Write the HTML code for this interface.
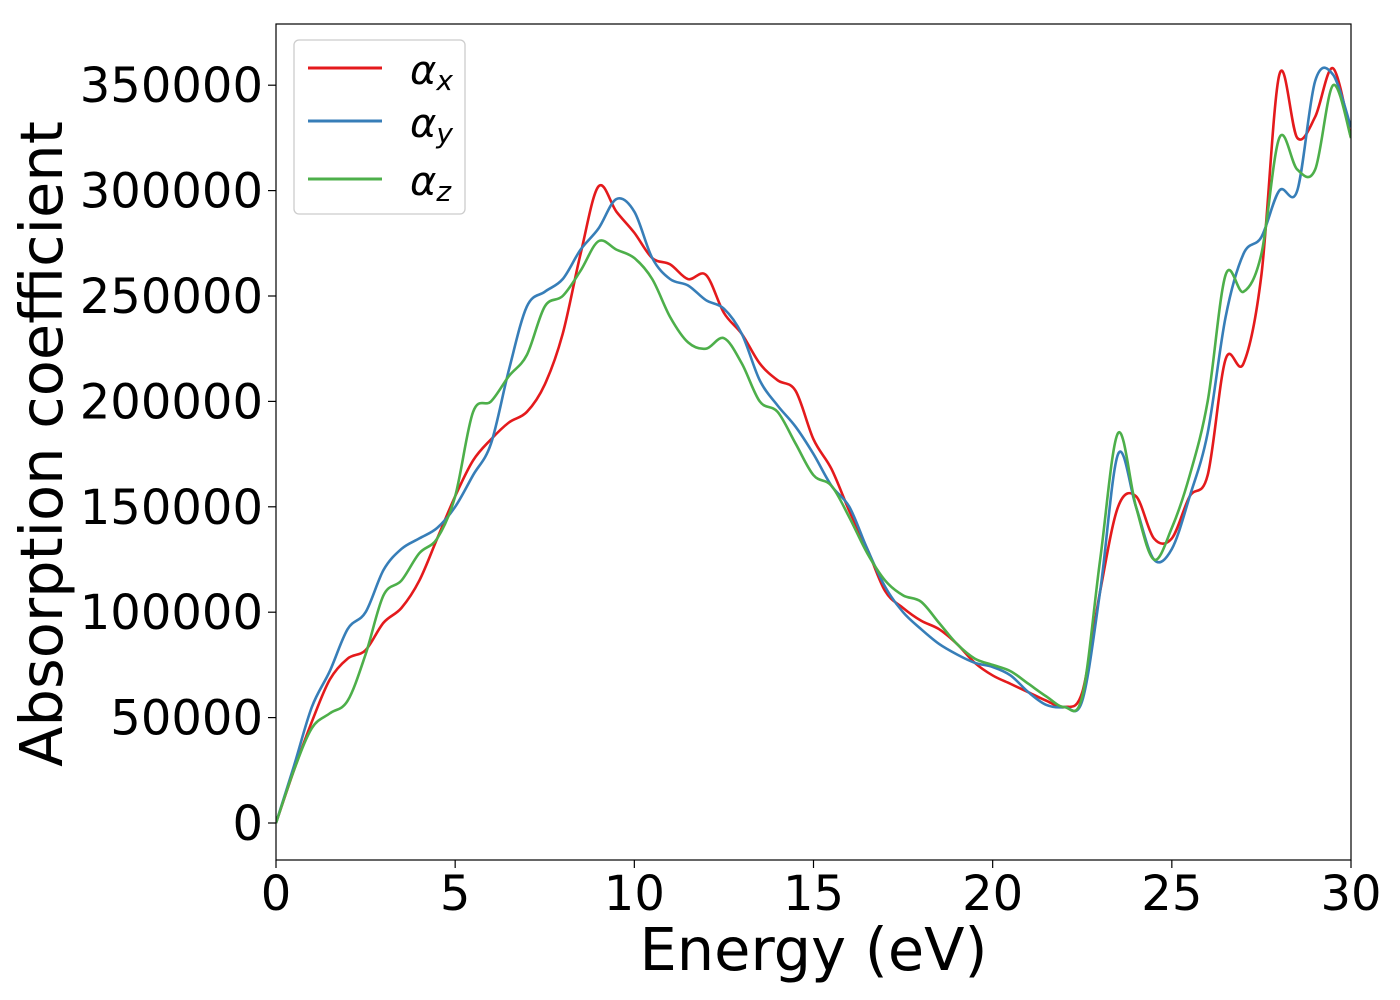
<!DOCTYPE html>
<html><head><meta charset="utf-8"><style>
body{margin:0;background:#fff;}
svg{display:block;font-family:"DejaVu Sans","Liberation Sans",sans-serif;}
</style></head><body>
<svg id="chart" width="1400" height="1000">
<g id="plot"></g>
<g id="axes"></g>
<g id="legend">
<rect x="294" y="40" width="171" height="174" rx="5" fill="#fff" fill-opacity="0.8" stroke="#ccc" stroke-width="1.3"/>
<g><line x1="308" y1="68" x2="382" y2="68" stroke="#e41a1c" stroke-width="3"/><text x="410" y="84" font-size="40" font-style="italic">α<tspan font-size="28" dy="6">x</tspan></text></g>
<g><line x1="308" y1="121" x2="382" y2="121" stroke="#377eb8" stroke-width="3"/><text x="410" y="137" font-size="40" font-style="italic">α<tspan font-size="28" dy="6">y</tspan></text></g>
<g><line x1="308" y1="179" x2="382" y2="179" stroke="#4daf4a" stroke-width="3"/><text x="410" y="195" font-size="40" font-style="italic">α<tspan font-size="28" dy="6">z</tspan></text></g>
</g>
</svg>
<script>
const energy=[0,0.5,1,1.5,2,2.5,3,3.5,4,4.5,5,5.5,6,6.5,7,7.5,8,8.5,9,9.5,10,10.5,11,11.5,12,12.5,13,13.5,14,14.5,15,15.5,16,16.5,17,17.5,18,18.5,19,19.5,20,20.5,21,21.5,22,22.5,23,23.5,24,24.5,25,25.5,26,26.5,27,27.5,28,28.5,29,29.5,30];
const alphaX=[0,25000,48000,68000,78000,82000,95000,102000,115000,135000,155000,172000,182000,190000,195000,208000,232000,270000,302000,290000,280000,268000,265000,258000,260000,242000,232000,218000,210000,205000,182000,168000,148000,130000,110000,102000,96000,92000,85000,76000,70000,66000,62000,58000,55000,62000,110000,150000,155000,135000,135000,155000,165000,220000,218000,260000,355000,325000,335000,358000,325000];
const alphaY=[0,27000,55000,72000,92000,100000,120000,130000,135000,140000,150000,165000,180000,215000,245000,252000,258000,272000,282000,296000,290000,268000,258000,255000,248000,244000,232000,210000,198000,188000,175000,160000,150000,130000,112000,100000,92000,85000,80000,76000,74000,70000,62000,56000,55000,58000,110000,175000,150000,125000,130000,155000,185000,240000,270000,278000,300000,300000,352000,355000,330000];
const alphaZ=[0,25000,45000,52000,58000,80000,108000,115000,128000,135000,155000,195000,200000,212000,222000,245000,250000,262000,276000,272000,268000,258000,240000,228000,225000,230000,218000,200000,195000,180000,165000,160000,145000,128000,115000,108000,105000,95000,85000,78000,75000,72000,66000,60000,55000,60000,125000,185000,150000,125000,140000,165000,200000,260000,252000,270000,325000,310000,310000,350000,325000];
const xTicks=[0,5,10,15,20,25,30];
const yTicks=[0,50000,100000,150000,200000,250000,300000,350000];
const NS="http://www.w3.org/2000/svg";
const L=276,R=1351,T=24,B=860;
const sx=v=>L+(v-0)/30*(R-L);
const sy=v=>823-v/50000*105.4;
const plot=document.getElementById('plot'),axes=document.getElementById('axes');
function mk(t,a,p){const e=document.createElementNS(NS,t);for(const k in a)e.setAttribute(k,a[k]);p.appendChild(e);return e;}
function path(xs,ys){const P=xs.map((x,i)=>[sx(x),sy(ys[i])]);let d=`M${P[0][0]},${P[0][1]}`;
for(let i=0;i<P.length-1;i++){const p0=P[Math.max(0,i-1)],p1=P[i],p2=P[i+1],p3=P[Math.min(P.length-1,i+2)];
d+=` C${p1[0]+(p2[0]-p0[0])/6},${p1[1]+(p2[1]-p0[1])/6} ${p2[0]-(p3[0]-p1[0])/6},${p2[1]-(p3[1]-p1[1])/6} ${p2[0]},${p2[1]}`;}return d;}
const series=[[alphaX,'#e41a1c','line-alpha-x'],[alphaY,'#377eb8','line-alpha-y'],[alphaZ,'#4daf4a','line-alpha-z']];
mk('clipPath',{id:'cp'},plot).appendChild(document.createElementNS(NS,'rect'));
const cr=plot.querySelector('clipPath rect');cr.setAttribute('x',L);cr.setAttribute('y',T);cr.setAttribute('width',R-L);cr.setAttribute('height',B-T);
series.forEach(s=>{const e=mk('path',{d:path(energy,s[0]),fill:'none',stroke:s[1],'stroke-width':2.6,'clip-path':'url(#cp)'},plot);

});
const fr=mk('rect',{x:L,y:T,width:R-L,height:B-T,fill:'none',stroke:'#000','stroke-width':1.2},axes);


xTicks.forEach(v=>{const x=sx(v);mk('line',{x1:x,y1:B,x2:x,y2:B+8,stroke:'#000','stroke-width':1.2},axes);
const t=mk('text',{x:x,y:B+50,'font-size':48,'text-anchor':'middle'},axes);t.textContent=v;

});
yTicks.forEach(v=>{const y=sy(v);mk('line',{x1:L-8,y1:y,x2:L,y2:y,stroke:'#000','stroke-width':1.2},axes);
const t=mk('text',{x:L-13,y:y+17,'font-size':48,'text-anchor':'end'},axes);t.textContent=v;

});
const xl=mk('text',{x:(L+R)/2,y:970,'font-size':59,'text-anchor':'middle'},axes);xl.textContent='Energy (eV)';


const yl=mk('text',{x:0,y:0,'font-size':59,'text-anchor':'middle',transform:`translate(62,${(T+B)/2 + 2}) rotate(-90)`},axes);yl.textContent='Absorption coefficient';


</script>
</body></html>
